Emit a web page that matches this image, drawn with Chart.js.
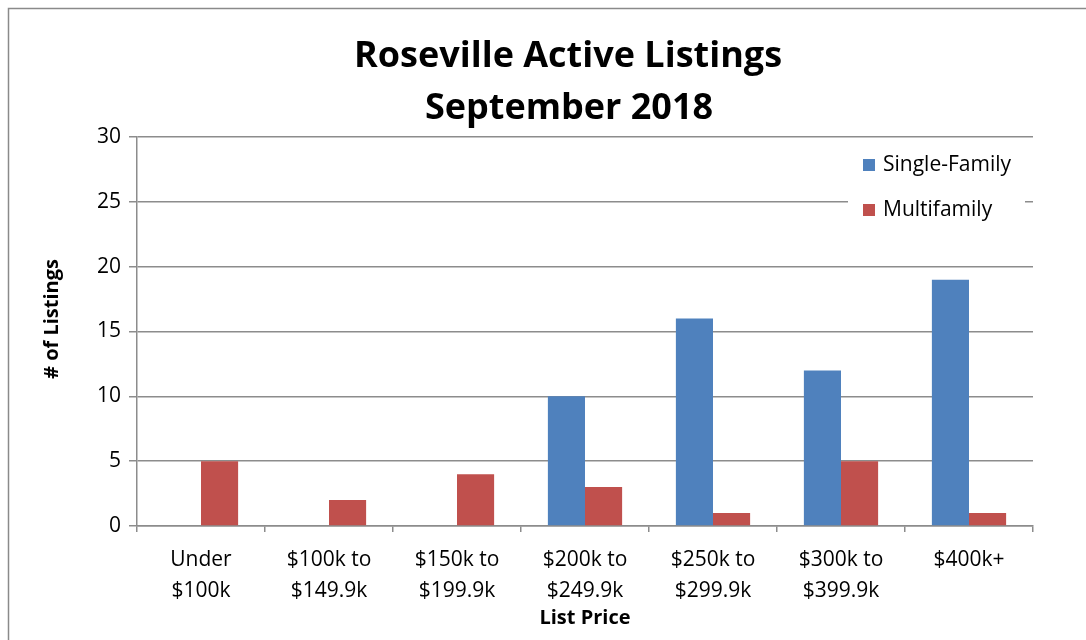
<!DOCTYPE html>
<html>
<head>
<meta charset="utf-8">
<script src="https://cdn.jsdelivr.net/npm/chart.js@4.4.0/dist/chart.umd.min.js"></script>
<style>
  html, body { margin: 0; padding: 0; background: #fff; }
  #wrap { width: 1086px; height: 640px; position: relative; }
</style>
</head>
<body>
<div id="wrap"><canvas id="chart" width="1086" height="640"></canvas></div>
<script>
const titleLines = ['Roseville Active Listings', 'September 2018'];
const categories = [
  ['Under', '$100k'],
  ['$100k to', '$149.9k'],
  ['$150k to', '$199.9k'],
  ['$200k to', '$249.9k'],
  ['$250k to', '$299.9k'],
  ['$300k to', '$399.9k'],
  ['$400k+']
];
const singleFamily = [0, 0, 0, 10, 16, 12, 19];
const multifamily = [5, 2, 4, 3, 1, 5, 1];
const seriesNames = ['Single-Family', 'Multifamily'];
const yTicks = [0, 5, 10, 15, 20, 25, 30];
const yTitle = '# of Listings';

const FONT = '"Open Sans", "Noto Sans", sans-serif';
const GRID = '#8c8c8c';

// frame, titles and the legend box inside the plot
const decor = {
  id: 'decor',
  beforeDraw(chart) {
    const ctx = chart.ctx;
    ctx.save();
    ctx.fillStyle = '#fff';
    ctx.fillRect(0, 0, chart.width, chart.height);
    ctx.strokeStyle = '#8a8a8a';
    ctx.lineWidth = 1.5;
    ctx.strokeRect(8.5, 8.5, 1200, 800);
    ctx.restore();
  },
  afterDraw(chart) {
    const ctx = chart.ctx;
    ctx.save();
    ctx.fillStyle = '#000';
    ctx.textAlign = 'center';
    ctx.textBaseline = 'alphabetic';
    ctx.font = 'bold 36px ' + FONT;
    ctx.fillText(titleLines[0], 568, 67);
    ctx.fillText(titleLines[1], 569, 119);

    // y axis title, a bit above the plot's middle like the original
    ctx.save();
    ctx.translate(52, 319);
    ctx.rotate(-Math.PI / 2);
    ctx.textBaseline = 'middle';
    ctx.font = 'bold 20px ' + FONT;
    ctx.fillText(yTitle, 0, 0);
    ctx.restore();

    // legend
    ctx.fillStyle = '#fff';
    ctx.fillRect(848, 144, 177, 90);
    ctx.textAlign = 'left';
    ctx.textBaseline = 'middle';
    ctx.font = '21px ' + FONT;
    chart.data.datasets.forEach((ds, i) => {
      const y = 165 + i * 45;
      ctx.fillStyle = ds.backgroundColor;
      ctx.fillRect(863, y - 6, 12, 12);
      ctx.fillStyle = '#000';
      ctx.fillText(ds.label, 883, y);
    });
    ctx.restore();
  }
};

new Chart(document.getElementById('chart'), {
  type: 'bar',
  data: {
    labels: categories,
    datasets: [
      { label: seriesNames[0], data: singleFamily, backgroundColor: '#4F81BD' },
      { label: seriesNames[1], data: multifamily, backgroundColor: '#C0504D' }
    ]
  },
  options: {
    responsive: false,
    animation: false,
    layout: { padding: { top: 137, right: 53, bottom: 0, left: 0 } },
    categoryPercentage: 0.58,
    barPercentage: 1.0,
    plugins: {
      legend: { display: false },
      title: { display: false },
      tooltip: { enabled: false }
    },
    scales: {
      x: {
        afterFit(scale) { scale.height = 114; },
        grid: { drawOnChartArea: false, drawTicks: true, tickLength: 6, offset: true, color: GRID, lineWidth: 1.5 },
        border: { color: GRID, width: 1.5 },
        ticks: { color: '#000', font: { family: FONT, size: 21, lineHeight: 1.45 }, padding: 13, maxRotation: 0, autoSkip: false },
        title: { display: true, text: 'List Price', color: '#000', font: { family: FONT, size: 20, weight: 'bold' }, padding: { top: 0, bottom: 10 } }
      },
      y: {
        min: 0,
        max: 30,
        afterFit(scale) { scale.width = 137; },
        afterBuildTicks(scale) { scale.ticks = yTicks.map(v => ({ value: v })); },
        grid: { color: GRID, lineWidth: 1.5, tickLength: 8 },
        border: { color: GRID, width: 1.5 },
        ticks: { color: '#000', font: { family: FONT, size: 21 }, padding: 8 },
        title: { display: false }
      }
    }
  },
  plugins: [decor]
});
</script>
</body>
</html>
